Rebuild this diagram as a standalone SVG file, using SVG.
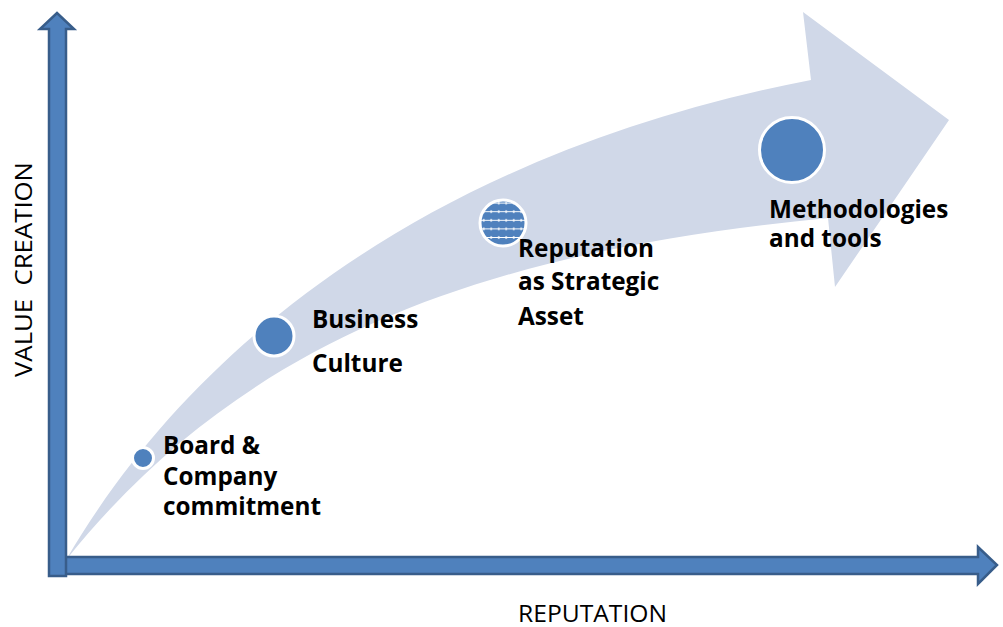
<svg xmlns="http://www.w3.org/2000/svg" width="1003" height="627" viewBox="0 0 1003 627">
<style>
.axis{fill:#4f81bd;stroke:#385d8a;stroke-width:2.5;stroke-linejoin:miter}
.dot{fill:#4f81bd;stroke:#ffffff;stroke-width:3}
.lbl{font-family:"Open Sans",Lato,"Liberation Sans",sans-serif;font-weight:bold;font-size:24.3px;fill:#000}
.ax{font-family:"Open Sans",Lato,"Liberation Sans",sans-serif;font-size:24px;fill:#000}
</style>
<defs>
<pattern id="dots" x="0" y="1" width="7.5" height="8.6" patternUnits="userSpaceOnUse">
<rect width="7.5" height="8.6" fill="#4f81bd"/>
<line x1="0" y1="4.3" x2="7.5" y2="4.3" stroke="#ffffff" stroke-width="1"/>
<polygon points="3.75,2.6 5.2,4.3 3.75,6 2.3,4.3" fill="#ffffff"/>
</pattern>
</defs>
<rect width="1003" height="627" fill="#ffffff"/>
<g id="growth-arrow">
<path d="M66 560 C200 330 450 150 811 80 L803 12 L949 120 L835 287 L828 218 C500 250 250 330 66 560 Z" fill="#d0d8e8"/>
</g>
<g id="connectors">
<polygon id="x-axis" class="axis" points="62,557 978,557 978,547 997,565 978,584 978,574 62,574"/>
<polygon id="y-axis" class="axis" points="49,576 49,29 40,29 57,13 74,29 66,29 66,576"/>
</g>
<g id="node-board">
<circle class="dot" cx="143" cy="458" r="10.5"/>
<text class="lbl" x="163" y="454">Board &amp;</text>
<text class="lbl" x="163" y="485">Company</text>
<text class="lbl" x="163" y="515">commitment</text>
</g>
<g id="node-business">
<circle class="dot" cx="274" cy="336" r="20"/>
<text class="lbl" x="312" y="328">Business</text>
<text class="lbl" x="312" y="372">Culture</text>
</g>
<g id="node-reputation">
<circle cx="503" cy="223" r="23" fill="url(#dots)" stroke="#ffffff" stroke-width="3"/>
<text class="lbl" x="518" y="257">Reputation</text>
<text class="lbl" x="518" y="290">as Strategic</text>
<text class="lbl" x="518" y="325">Asset</text>
</g>
<g id="node-methodologies">
<circle class="dot" cx="792" cy="150" r="32.5" stroke-width="3.5"/>
<text class="lbl" x="769" y="218">Methodologies</text>
<text class="lbl" x="769" y="247">and tools</text>
</g>
<g id="axis-labels">
<text class="ax" x="518" y="622" textLength="149" lengthAdjust="spacingAndGlyphs">REPUTATION</text>
<text class="ax" transform="translate(32 377) rotate(-90)" textLength="215" lengthAdjust="spacingAndGlyphs" xml:space="preserve">VALUE  CREATION</text>
</g>
</svg>
